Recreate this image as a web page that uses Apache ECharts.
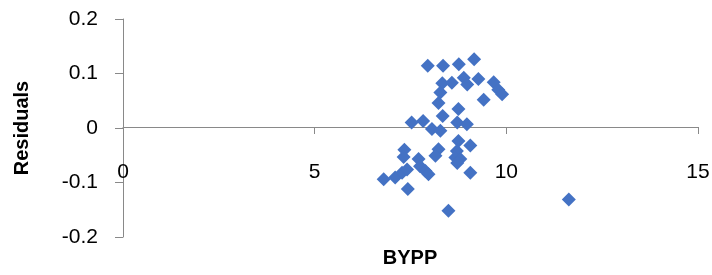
<!DOCTYPE html>
<html>
<head>
<meta charset="utf-8">
<script src="https://cdn.jsdelivr.net/npm/echarts@6/dist/echarts.min.js"></script>
<style>
html,body{margin:0;padding:0;background:#fff;}
#c{width:712px;height:275px;}
</style>
</head>
<body>
<div id="c"></div>
<script>
// BYPP values (x) and residuals (y)
const bypp = [
  7.95, 8.35, 8.76, 9.16, 8.33, 8.28, 8.23, 8.58, 8.89, 8.98,
  9.27, 9.67, 9.79, 9.89, 9.41, 8.75, 8.34, 7.53, 7.83, 8.06,
  8.28, 8.72, 8.97, 8.75, 9.06, 7.34, 7.32, 6.80, 7.10, 7.28,
  7.41, 7.43, 7.71, 7.75, 7.89, 7.97, 8.23, 8.15, 8.71, 8.67,
  8.80, 9.06, 8.49, 11.63, 8.72
];
const residuals = [
  0.114, 0.114, 0.117, 0.126, 0.082, 0.065, 0.046, 0.083, 0.092, 0.080,
  0.090, 0.084, 0.070, 0.062, 0.052, 0.035, 0.022, 0.010, 0.013, -0.002,
  -0.005, 0.010, 0.007, -0.024, -0.032, -0.040, -0.053, -0.094, -0.091, -0.082,
  -0.076, -0.112, -0.057, -0.070, -0.079, -0.085, -0.039, -0.051, -0.042, -0.054,
  -0.057, -0.082, -0.152, -0.131, -0.064
];
const xTicks = [0, 15, 5];      // min, max, interval
const yTicks = [-0.2, 0.2, 0.1]; // min, max, interval
const xTitle = 'BYPP';
const yTitle = 'Residuals';

const points = bypp.map((x, i) => [x, residuals[i]]);
const font = 'Liberation Sans, Arial, sans-serif';
const chart = echarts.init(document.getElementById('c'));
chart.setOption({
  animation: false,
  backgroundColor: '#ffffff',
  grid: { left: 123, right: 14, top: 19, bottom: 38, containLabel: false, outerBoundsMode: 'none' },
  xAxis: {
    type: 'value',
    position: 'bottom',
    offset: -110,
    min: xTicks[0], max: xTicks[1], interval: xTicks[2],
    axisLine: { show: true, onZero: false, lineStyle: { color: '#898989', width: 1 } },
    axisTick: { show: true, inside: false, length: 7, lineStyle: { color: '#898989', width: 1 } },
    axisLabel: { show: true, margin: 35, fontFamily: font, fontSize: 21, color: '#000' },
    splitLine: { show: false }
  },
  yAxis: {
    type: 'value',
    min: yTicks[0], max: yTicks[1], interval: yTicks[2],
    axisLine: { show: true, onZero: false, lineStyle: { color: '#898989', width: 1 } },
    axisTick: { show: true, inside: false, length: 8, lineStyle: { color: '#898989' } },
    axisLabel: { margin: 25, fontFamily: font, fontSize: 21, color: '#000' },
    splitLine: { show: false }
  },
  graphic: [
    { type: 'text', x: 410, y: 258, z: 10,
      style: { text: xTitle, fill: '#000', align: 'center', verticalAlign: 'middle',
               font: 'bold 20px Liberation Sans, Arial, sans-serif' } },
    { type: 'text', x: 22, y: 128, rotation: Math.PI / 2, z: 10,
      style: { text: yTitle, fill: '#000', align: 'center', verticalAlign: 'middle',
               font: 'bold 20px Liberation Sans, Arial, sans-serif' } }
  ],
  series: [{
    type: 'scatter',
    data: points,
    symbol: 'diamond',
    symbolSize: 14,
    itemStyle: { color: '#4472C4', opacity: 1 }
  }]
});
</script>
</body>
</html>
